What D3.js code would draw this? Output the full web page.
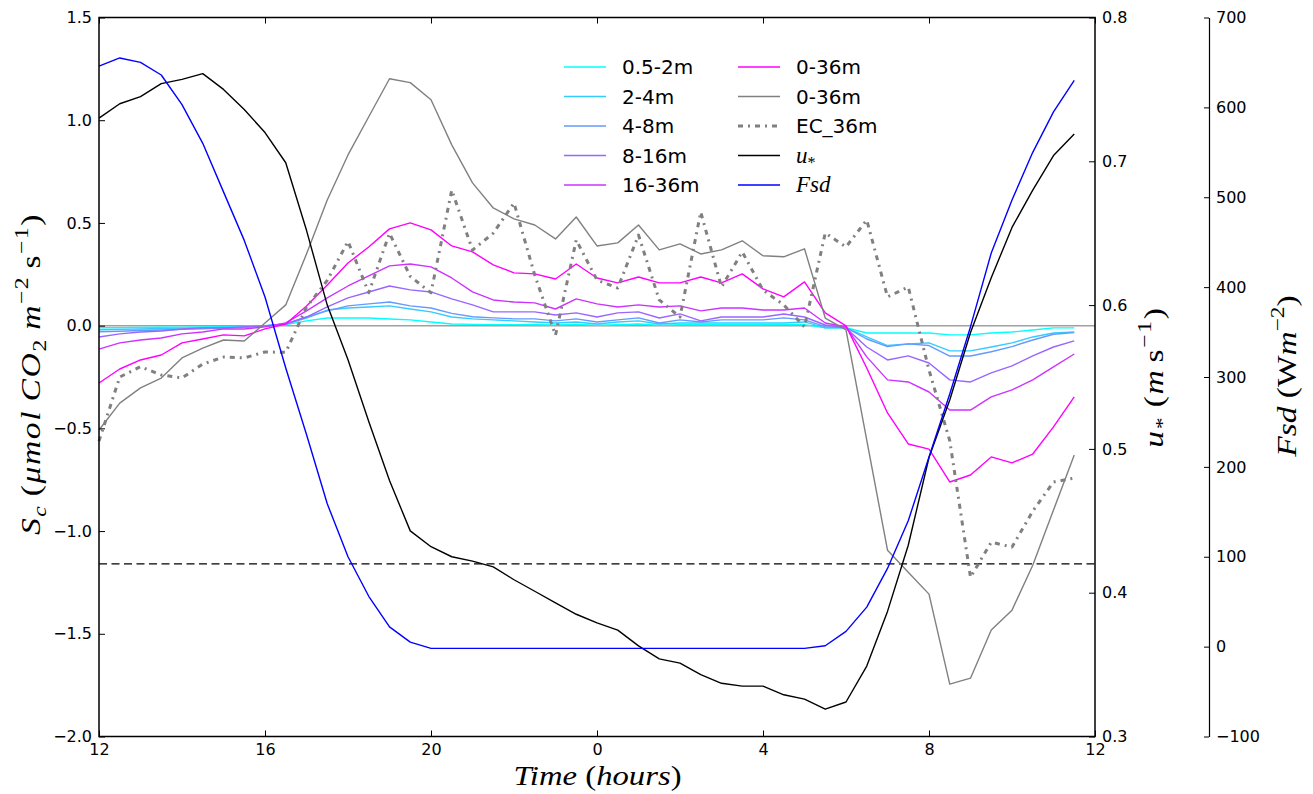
<!DOCTYPE html>
<html><head><meta charset="utf-8">
<script src="https://cdn.jsdelivr.net/npm/d3@7"></script>
<style>body{margin:0;background:#fff} svg{display:block}</style>
</head><body>
<svg id="chart" width="1313" height="794"></svg>
<script>
// ---------- DATA ----------
const hours = [0,0.5,1,1.5,2,2.5,3,3.5,4,4.5,5,5.5,6,6.5,7,7.5,8,8.5,9,9.5,10,10.5,11,11.5,
               12,12.5,13,13.5,14,14.5,15,15.5,16,16.5,17,17.5,18,18.5,19,19.5,20,20.5,21,21.5,22,22.5,23,23.5];
const xTickHours = [0,4,8,12,16,20,24];
const xTickLabels = ["12","16","20","0","4","8","12"];
const leftTicks = [-2.0,-1.5,-1.0,-0.5,0.0,0.5,1.0,1.5];
const ustarTicks = [0.3,0.4,0.5,0.6,0.7,0.8];
const fsdTicks = [-100,0,100,200,300,400,500,600,700];

const sc_05_2 = [-0.010,-0.010,-0.009,-0.008,-0.007,-0.006,-0.005,-0.004,0.000,0.005,0.023,0.037,0.037,0.037,0.032,0.028,0.018,0.008,0.006,0.005,0.005,0.004,0.003,0.006,0.002,0.004,0.008,0.002,0.004,0.004,0.004,0.004,0.004,0.006,0.005,-0.011,-0.010,-0.036,-0.036,-0.036,-0.036,-0.045,-0.045,-0.036,-0.031,-0.021,-0.011,-0.011];
const sc_2_4 = [-0.020,-0.018,-0.016,-0.014,-0.012,-0.010,-0.008,-0.006,0.000,0.008,0.037,0.076,0.086,0.091,0.096,0.081,0.067,0.042,0.033,0.028,0.023,0.018,0.013,0.018,0.008,0.018,0.023,0.008,0.013,0.013,0.013,0.013,0.013,0.013,0.018,-0.011,-0.010,-0.055,-0.097,-0.089,-0.084,-0.123,-0.123,-0.104,-0.084,-0.055,-0.036,-0.031];
const sc_4_8 = [-0.030,-0.027,-0.024,-0.021,-0.018,-0.015,-0.012,-0.008,-0.002,0.008,0.042,0.072,0.096,0.106,0.115,0.096,0.086,0.060,0.043,0.038,0.033,0.033,0.023,0.033,0.018,0.028,0.038,0.013,0.028,0.018,0.028,0.028,0.028,0.038,0.028,-0.005,-0.010,-0.065,-0.102,-0.089,-0.097,-0.148,-0.148,-0.127,-0.102,-0.070,-0.042,-0.034];
const sc_8_16 = [-0.055,-0.040,-0.031,-0.026,-0.016,-0.011,-0.011,-0.006,-0.001,0.008,0.042,0.091,0.135,0.164,0.193,0.174,0.164,0.130,0.101,0.067,0.067,0.067,0.052,0.062,0.042,0.062,0.067,0.037,0.057,0.023,0.042,0.042,0.042,0.057,0.042,0.003,-0.011,-0.104,-0.167,-0.147,-0.182,-0.264,-0.274,-0.230,-0.196,-0.147,-0.104,-0.074];
const sc_16_36 = [-0.114,-0.084,-0.070,-0.060,-0.040,-0.031,-0.016,-0.016,-0.006,0.013,0.072,0.135,0.193,0.242,0.291,0.300,0.286,0.232,0.164,0.125,0.115,0.111,0.081,0.130,0.106,0.091,0.101,0.091,0.096,0.072,0.086,0.086,0.076,0.076,0.086,0.013,-0.006,-0.152,-0.264,-0.274,-0.323,-0.411,-0.411,-0.347,-0.313,-0.264,-0.201,-0.138];
const sc_0_36 = [-0.279,-0.211,-0.167,-0.143,-0.084,-0.065,-0.045,-0.050,-0.016,0.008,0.096,0.198,0.305,0.383,0.471,0.500,0.466,0.388,0.359,0.296,0.257,0.252,0.227,0.300,0.232,0.208,0.237,0.208,0.208,0.237,0.208,0.252,0.179,0.140,0.213,0.062,-0.001,-0.206,-0.425,-0.576,-0.601,-0.761,-0.727,-0.639,-0.668,-0.625,-0.493,-0.347];
const sc_0_36_gray = [-0.508,-0.377,-0.303,-0.255,-0.157,-0.109,-0.070,-0.075,0.013,0.101,0.349,0.612,0.831,1.017,1.202,1.183,1.100,0.880,0.695,0.573,0.520,0.490,0.422,0.529,0.388,0.403,0.490,0.369,0.398,0.349,0.369,0.413,0.340,0.335,0.374,0.037,-0.021,-0.557,-1.093,-1.200,-1.307,-1.745,-1.716,-1.482,-1.385,-1.166,-0.898,-0.630];
const ec_36 = [-0.562,-0.250,-0.200,-0.240,-0.255,-0.187,-0.153,-0.157,-0.128,-0.130,0.090,0.220,0.410,0.160,0.450,0.240,0.160,0.660,0.368,0.450,0.597,0.246,-0.047,0.417,0.222,0.183,0.441,0.125,0.042,0.553,0.188,0.359,0.173,0.101,-0.006,0.451,0.383,0.514,0.140,0.188,-0.216,-0.560,-1.225,-1.054,-1.078,-0.903,-0.761,-0.742];
const ustar = [0.730,0.740,0.745,0.754,0.757,0.761,0.750,0.736,0.720,0.699,0.652,0.600,0.562,0.519,0.478,0.443,0.432,0.425,0.422,0.418,0.409,0.401,0.393,0.385,0.379,0.374,0.363,0.354,0.351,0.343,0.337,0.335,0.335,0.329,0.326,0.319,0.324,0.349,0.387,0.433,0.494,0.534,0.581,0.619,0.654,0.680,0.704,0.719];
const fsd = [646,655,650,636,603,560,506,452,389,310,236,159,100,56,22,5,-2,-2,-2,-2,-2,-2,-2,-2,-2,-2,-2,-2,-2,-2,-2,-2,-2,-2,-2,1,17,44,87,140,211,281,356,438,497,550,595,630];
const ustarThreshold = 0.42;
const zeroLine = 0;

// ---------- SCALES ----------
const svg = d3.select("#chart");
const X0 = 99, X1 = 1095, Y0 = 17.5, Y1 = 736.5, XF = 1209;
const x = d3.scaleLinear().domain([0,24]).range([X0,X1]);
const yL = d3.scaleLinear().domain([-2,1.5]).range([Y1,Y0]);
const yU = d3.scaleLinear().domain([0.3,0.8]).range([Y1,Y0]);
const yF = d3.scaleLinear().domain([-100,700]).range([Y1,Y0]);

const tickFont = "'DejaVu Sans', sans-serif";
const mathFont = "'Liberation Serif', serif";

// reference lines
svg.append("line").attr("x1",x(0)).attr("x2",x(24)).attr("y1",yL(zeroLine)).attr("y2",yL(zeroLine))
  .attr("stroke","#a0a0a0").attr("stroke-width",1.5);
svg.append("line").attr("x1",x(0)).attr("x2",x(24)).attr("y1",yU(ustarThreshold)).attr("y2",yU(ustarThreshold))
  .attr("stroke","#000").attr("stroke-width",1.3).attr("stroke-dasharray","8,4.5");

// ---------- SERIES ----------
const series = [
  {name:"0.5-2m", vals:sc_05_2, scale:yL, color:"#00ffff", w:1.4},
  {name:"2-4m", vals:sc_2_4, scale:yL, color:"#33ccff", w:1.4},
  {name:"4-8m", vals:sc_4_8, scale:yL, color:"#6699ff", w:1.4},
  {name:"8-16m", vals:sc_8_16, scale:yL, color:"#9966ff", w:1.4},
  {name:"16-36m", vals:sc_16_36, scale:yL, color:"#cc33ff", w:1.4},
  {name:"0-36m", vals:sc_0_36, scale:yL, color:"#ff00ff", w:1.4},
  {name:"0-36m", vals:sc_0_36_gray, scale:yL, color:"#808080", w:1.4},
  {name:"EC_36m", vals:ec_36, scale:yL, color:"#808080", w:3, dash:"5,5,2,5"},
  {name:"u*", vals:ustar, scale:yU, color:"#000000", w:1.4, math:[{t:"u",i:1},{t:"*",pos:"sub"}]},
  {name:"Fsd", vals:fsd, scale:yF, color:"#0000ff", w:1.4, math:[{t:"Fsd",i:1}]}
];

series.forEach(s => {
  const line = d3.line().x((d,i)=>x(hours[i])).y(d=>s.scale(d));
  svg.append("path").datum(s.vals).attr("d", line)
    .attr("fill","none").attr("stroke", s.color).attr("stroke-width", s.w)
    .attr("stroke-linejoin","round")
    .attr("stroke-dasharray", s.dash || null);
});

// ---------- AXES ----------
function styleAxis(g){
  g.selectAll("text").attr("font-family",tickFont).attr("font-size",16).attr("fill","#000");
  g.selectAll("line").attr("stroke","#000").attr("stroke-width",1);
}
const fmt1 = d3.format(".1f");
svg.append("g").attr("transform",`translate(0,${Y1})`)
  .call(d3.axisBottom(x).tickValues(xTickHours).tickFormat((d,i)=>xTickLabels[i]).tickSizeInner(-6).tickSizeOuter(0).tickPadding(7.5))
  .call(g=>g.select(".domain").remove()).call(styleAxis);
svg.append("g").attr("transform",`translate(0,${Y0})`)
  .call(d3.axisTop(x).tickValues(xTickHours).tickFormat(()=>null).tickSizeInner(-6).tickSizeOuter(0))
  .call(g=>g.select(".domain").remove()).call(g=>g.selectAll("text").remove()).call(styleAxis);
svg.append("g").attr("transform",`translate(${X0},0)`)
  .call(d3.axisLeft(yL).tickValues(leftTicks).tickFormat(fmt1).tickSizeInner(-6).tickSizeOuter(0).tickPadding(7))
  .call(g=>g.select(".domain").remove()).call(styleAxis);
svg.append("g").attr("transform",`translate(${X1},0)`)
  .call(d3.axisRight(yU).tickValues(ustarTicks).tickFormat(fmt1).tickSizeInner(-6).tickSizeOuter(0).tickPadding(7))
  .call(g=>g.select(".domain").remove()).call(styleAxis);
svg.append("g").attr("transform",`translate(${XF},0)`)
  .call(d3.axisRight(yF).tickValues(fsdTicks).tickFormat(d3.format("d")).tickSizeInner(-5).tickSizeOuter(0).tickPadding(7))
  .call(styleAxis)
  .call(g=>g.select(".domain").attr("stroke","#000").attr("stroke-width",1.2));

// frame
svg.append("rect").attr("x",X0).attr("y",Y0).attr("width",X1-X0).attr("height",Y1-Y0)
  .attr("fill","none").attr("stroke","#000").attr("stroke-width",1.5);

// ---------- rich text helper ----------
function rich(sel, parts, size){
  let shift = 0;
  parts.forEach(p=>{
    const target = p.pos==="sub" ? size*0.22 : p.pos==="sup" ? -size*0.42 : 0;
    sel.append("tspan").text(p.t)
      .attr("dy", (target-shift))
      .attr("dx", p.gap || 0)
      .attr("font-size", p.pos ? size*0.7 : size)
      .attr("font-style", p.i ? "italic" : "normal");
    shift = target;
  });
}
// math-like label: modest horizontal stretch (wider CM face) plus letter spacing if still short
function mathLabel(cx, cy, rot, parts, size, target, maxScale){
  const t = svg.append("text").attr("x",0).attr("y",0).attr("text-anchor","middle")
    .attr("font-family",mathFont).attr("font-size",size).attr("fill","#000");
  rich(t, parts, size);
  let n = t.node().getComputedTextLength();
  let s = Math.min(target/n, maxScale);
  const chars = parts.reduce((a,p)=>a+p.t.length,0);
  const extra = target/s - n;
  if (extra > 0.5) {
    t.style("letter-spacing", (extra/chars).toFixed(2)+"px");
    n = t.node().getComputedTextLength();
    s = target/n;
  }
  t.attr("transform",`translate(${cx},${cy}) rotate(${rot}) scale(${s.toFixed(3)},1)`);
}

mathLabel(597.5, 785, 0, [{t:"Time",i:1},{t:"(",gap:7},{t:"hours",i:1},{t:")"}], 28, 160, 1.2);
mathLabel(40, 374, -90, [{t:"S",i:1},{t:"c",i:1,pos:"sub"},{t:"(",gap:7},{t:"μmol",i:1},{t:"CO",i:1,gap:7},{t:"2",pos:"sub"},{t:"m",i:1,gap:7},{t:"−2",pos:"sup"},{t:"s",gap:6},{t:"−1",pos:"sup"},{t:")"}], 28, 290, 1.2);
mathLabel(1163, 377, -90, [{t:"u",i:1},{t:"*",pos:"sub"},{t:"(",gap:7},{t:"m",i:1},{t:"s",gap:5},{t:"−1",pos:"sup"},{t:")"}], 28, 127, 1.2);
mathLabel(1296, 376, -90, [{t:"Fsd",i:1},{t:"(",gap:7},{t:"W"},{t:"m",i:1},{t:"−2",pos:"sup"},{t:")"}], 28, 153, 1.2);

// ---------- LEGEND ----------
const legCols = [{lx:564, tx:622},{lx:738, tx:796}];
const legRows = [67, 96.5, 126, 155.5, 185];
series.forEach((s,k)=>{
  const c = legCols[Math.floor(k/5)], ry = legRows[k%5];
  svg.append("line").attr("x1",c.lx).attr("x2",c.lx+42).attr("y1",ry).attr("y2",ry)
    .attr("stroke",s.color).attr("stroke-width",s.w).attr("stroke-dasharray",s.dash||null);
  const t = svg.append("text").attr("x",c.tx).attr("y",ry+7);
  if (s.math){
    t.attr("font-family",mathFont).attr("font-size",23);
    rich(t,s.math,23);
  } else {
    t.attr("font-family",tickFont).attr("font-size",20).text(s.name);
  }
});
</script>
</body></html>
